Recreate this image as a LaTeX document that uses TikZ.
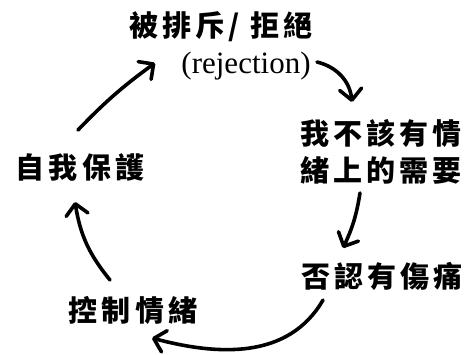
\documentclass[tikz,border=0pt]{standalone}
\usepackage{fontspec}
\newfontfamily\cjk[LetterSpace=14]{Noto Sans CJK TC}
\newfontfamily\latn{Liberation Serif}
\usetikzlibrary{arrows.meta}
\tikzset{
  lbl/.style={inner sep=0pt, font=\cjk\bfseries\fontsize{29}{37}\selectfont},
  arr/.style={line width=3.6pt, line cap=round,
    -{Straight Barb[length=11pt,width=22pt,line width=3.6pt,round]}}
}
\begin{document}
\begin{tikzpicture}[x=1pt,y=1pt]
        \useasboundingbox (0,0) rectangle (470,354);
        % testi
        \node[lbl] (top) at (221,327) {被排斥/ 拒絕};
        \node[inner sep=0pt, font=\latn\fontsize{31}{33}\selectfont] (rej) at (246,288) {(rejection)};
        \node[lbl, align=left] (need) at (381,202) {我不該有情\\緒上的需要};
        \node[lbl] (deny) at (382,78) {否認有傷痛};
        \node[lbl] (ctrl) at (133,44) {控制情緒};
        \node[lbl] (self) at (80,187) {自我保護};
        % frecce
        \draw[arr] ([shift={(-2,37)}]self.center) to[bend left=5] ([shift={(-66,-36)}]top.center);
        \draw[arr] ([shift={(71,4)}]rej.center) to[bend left=35] ([shift={(-29,50)}]need.center);
        \draw[arr] ([shift={(-21,-41)}]need.center) to[bend left=8] ([shift={(-39,28)}]deny.center);
        \draw[arr] ([shift={(-59,-24)}]deny.center) to[out=-120,in=-15] ([shift={(19,-28)}]ctrl.center);
        \draw[arr] ([shift={(-23,30)}]ctrl.center) to[bend left=15] ([shift={(-5,-35)}]self.center);
\end{tikzpicture}
\end{document}
